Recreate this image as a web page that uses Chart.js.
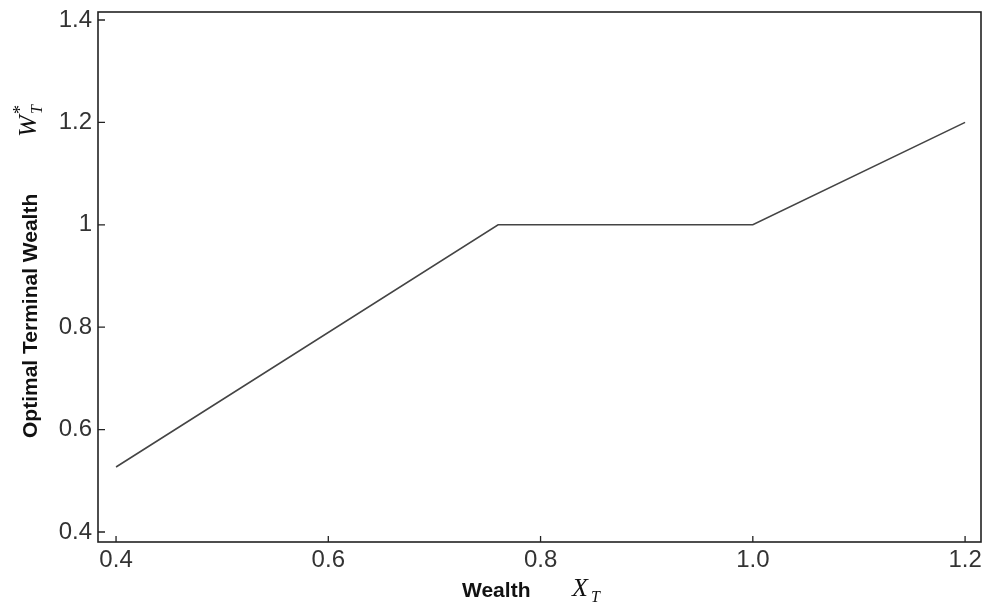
<!DOCTYPE html>
<html>
<head>
<meta charset="utf-8">
<script src="https://cdn.jsdelivr.net/npm/chart.js@4/dist/chart.umd.min.js"></script>
<style>
  html, body { margin: 0; padding: 0; background: #fff; }
  #wrap { width: 986px; height: 612px; position: relative; }
</style>
</head>
<body>
<div id="wrap"><canvas id="chart" width="986" height="612"></canvas></div>
<script>
// data
const wealthX = [0.4, 0.76, 1.0, 1.2];
const optimalW = [0.527, 1.0, 1.0, 1.2];

const xTickValues = [0.4, 0.6, 0.8, 1.0, 1.2];
const xTickLabels = ["0.4", "0.6", "0.8", "1.0", "1.2"];
const yTickValues = [0.4, 0.6, 0.8, 1.0, 1.2, 1.4];
const yTickLabels = ["0.4", "0.6", "0.8", "1", "1.2", "1.4"];

const xRange = [0.383, 1.215];
const yRange = [0.3805, 1.4156];

const frameColor = "#222";
const tickFont = { family: "'Liberation Sans', Arial, sans-serif", size: 24 };

/* axis frame, inward ticks and the mixed-font axis titles */
const framePlugin = {
  id: "frame",
  afterDraw(chart) {
    const ctx = chart.ctx;
    const a = chart.chartArea;
    const xs = chart.scales.x;
    const ys = chart.scales.y;
    ctx.save();
    ctx.strokeStyle = frameColor;
    ctx.lineWidth = 1.6;
    ctx.strokeRect(a.left, a.top, a.right - a.left, a.bottom - a.top);

    ctx.lineWidth = 1.3;
    ctx.beginPath();
    xTickValues.forEach(v => {
      const px = xs.getPixelForValue(v);
      ctx.moveTo(px, a.bottom);
      ctx.lineTo(px, a.bottom - 6);
    });
    yTickValues.forEach(v => {
      const py = ys.getPixelForValue(v);
      ctx.moveTo(a.left, py);
      ctx.lineTo(a.left + 7, py);
    });
    ctx.stroke();

    // x title
    ctx.fillStyle = "#111";
    ctx.textBaseline = "alphabetic";
    ctx.textAlign = "left";
    ctx.font = "bold 21px 'Liberation Sans', Arial, sans-serif";
    ctx.fillText("Wealth", 462, 597);
    ctx.font = "italic 26px 'Liberation Serif', 'Times New Roman', serif";
    ctx.fillText("X", 572, 596);
    ctx.font = "italic 16px 'Liberation Serif', 'Times New Roman', serif";
    ctx.fillText("T", 591, 602);

    // y title (rotated)
    ctx.translate(37, 0);
    ctx.rotate(-Math.PI / 2);
    ctx.font = "bold 21px 'Liberation Sans', Arial, sans-serif";
    ctx.fillText("Optimal Terminal Wealth", -438, 0);
    ctx.font = "italic 26px 'Liberation Serif', 'Times New Roman', serif";
    ctx.fillText("W", -137, -1);
    ctx.font = "italic 16px 'Liberation Serif', 'Times New Roman', serif";
    ctx.fillText("T", -114, 5);
    ctx.font = "18px 'Liberation Serif', 'Times New Roman', serif";
    ctx.fillText("*", -114, -11);
    ctx.restore();
  }
};

new Chart(document.getElementById("chart"), {
  type: "line",
  data: {
    datasets: [{
      data: wealthX.map((x, i) => ({ x, y: optimalW[i] })),
      borderColor: "#444",
      borderWidth: 1.6,
      pointRadius: 0,
      tension: 0,
      fill: false
    }]
  },
  options: {
    responsive: false,
    animation: false,
    layout: { padding: { top: 12, right: 5, left: 0, bottom: 0 } },
    plugins: {
      legend: { display: false },
      tooltip: { enabled: false }
    },
    scales: {
      x: {
        type: "linear",
        min: xRange[0],
        max: xRange[1],
        afterBuildTicks: s => { s.ticks = xTickValues.map(v => ({ value: v })); },
        afterFit: s => { s.height = 70; s.paddingLeft = 0; s.paddingRight = 0; },
        grid: { display: false, drawTicks: false },
        border: { display: false },
        ticks: {
          font: tickFont,
          color: "#333",
          padding: 4,
          maxRotation: 0,
          callback: (v) => xTickLabels[xTickValues.indexOf(v)] ?? ""
        }
      },
      y: {
        type: "linear",
        min: yRange[0],
        max: yRange[1],
        afterBuildTicks: s => { s.ticks = yTickValues.map(v => ({ value: v })); },
        afterFit: s => { s.width = 98; s.paddingTop = 0; s.paddingBottom = 0; },
        grid: { display: false, drawTicks: false },
        border: { display: false },
        ticks: {
          font: tickFont,
          color: "#333",
          padding: 6,
          callback: (v) => yTickLabels[yTickValues.indexOf(v)] ?? ""
        }
      }
    }
  },
  plugins: [framePlugin]
});
</script>
</body>
</html>
